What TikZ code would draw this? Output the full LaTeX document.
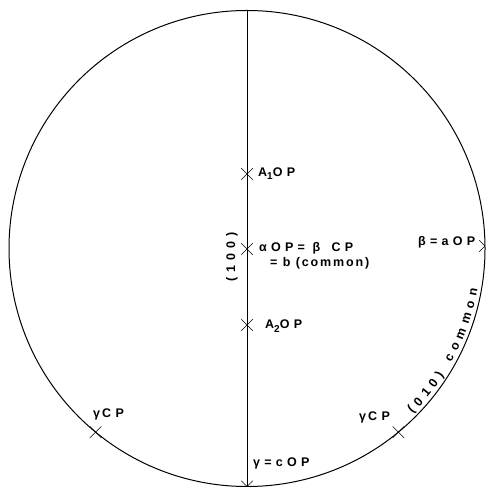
\documentclass[tikz,border=0pt]{standalone}
\usepackage{fontspec}
\setmainfont{Liberation Sans}
\newfontfamily\labfont[LetterSpace=15,BoldFont={Liberation Sans Bold}]{Liberation Sans}
\newfontfamily\widefont[LetterSpace=34,BoldFont={Liberation Sans Bold}]{Liberation Sans}
\newfontfamily\arcfont{Liberation Sans Bold}
\usetikzlibrary{shapes.misc,decorations.text,calc}
\newcommand\lowsub[1]{\raisebox{-3.5pt}{\fontsize{10}{10}\selectfont #1}}
\newcommand\gap{\hspace{5pt}}
\begin{document}
\begin{tikzpicture}[x=1pt,y=1pt,
  lbl/.style={font=\labfont\bfseries\fontsize{12.5}{15}\selectfont, inner sep=0pt, anchor=west},
  wlbl/.style={font=\widefont\bfseries\fontsize{12.5}{15}\selectfont, inner sep=0pt, anchor=west},
  xmark/.style={draw, cross out, minimum size=11pt, inner sep=0pt, line width=0.5pt},
  rim/.style={line width=1pt}]
\useasboundingbox (0,0) rectangle (487,489);
\coordinate (O) at (247,240.5);
\node[draw, rim, circle, minimum size=476pt, inner sep=0pt] (C) at (O) {};
\coordinate (T) at (247,478.5);
\coordinate (B) at (247,2.5);
\draw[line width=0.6pt] (T) -- (B);
% marks on the diameter
\node[xmark] (a1) at (247,315) {};
\node[xmark] (al) at (247,240) {};
\node[xmark] (a2) at (247,164) {};
\node[xmark] (g1) at ($(O)+(230.5:238)$) {};
\node[xmark] (g2) at ($(O)+(309.5:238)$) {};
\begin{scope}
  \clip (O) circle (238);
  \node[xmark] (gc) at (B) {};
  \node[xmark] (ba) at (485,243) {};
\end{scope}
% labels
\node[wlbl] (la1) at (258,315.5) {A\lowsub{1}OP};
\node[wlbl] (lal) at (259,241) {αOP= β\; CP};
\node[lbl] (lal2) at (270,226) {= b (common)};
\node[wlbl] (la2) at (265,163) {A\lowsub{2}OP};
\node[wlbl] (lba) at (418,247) {β=aOP};
\node[wlbl] (lg1) at (93,75) {γ\,CP};
\node[wlbl] (lg2) at (359,72) {γ\,CP};
\node[wlbl] (lgc) at (253,26) {γ=cOP};
\node[wlbl, anchor=center, rotate=90] (l100) at (232,232) {(\gap 1\gap 0\gap 0\gap)};
\path[decorate, decoration={text along path, text align=fit to path,
  text={|\arcfont\fontsize{12.5}{15}\selectfont|(010)  common}}]
  ($(O)+(-45:234)$) arc (-45:-10:234);
\end{tikzpicture}
\end{document}
